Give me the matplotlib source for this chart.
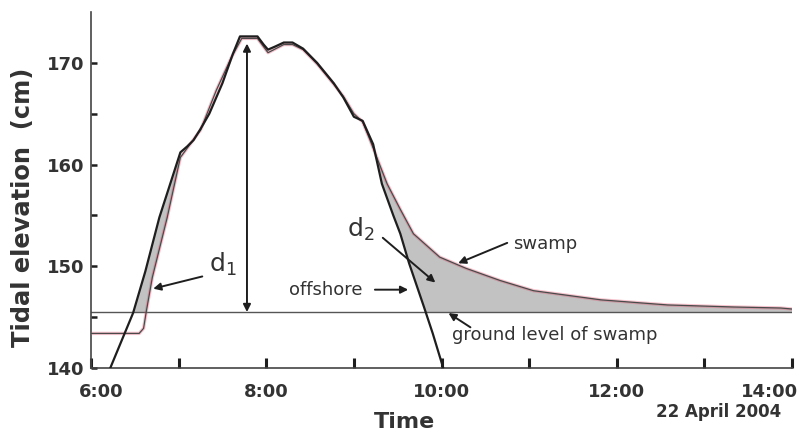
"""Tidal elevation offshore vs swamp, 22 April 2004."""
import numpy as np
import matplotlib
matplotlib.use("Agg")
import matplotlib.pyplot as plt
from matplotlib.ticker import FixedLocator, FuncFormatter

# offshore gauge (hours, cm)
off_t = [6.22, 6.35, 6.48, 6.62, 6.78, 6.90, 7.02, 7.10, 7.17, 7.25, 7.35, 7.50,
         7.62, 7.70, 7.90, 7.97, 8.02, 8.10, 8.20, 8.30, 8.42, 8.58, 8.77, 8.88,
         9.00, 9.10, 9.22, 9.32, 9.45, 9.53, 9.63, 9.80, 9.90, 10.02]
off_e = [140.0, 142.7, 145.4, 149.5, 154.8, 158.0, 161.2, 161.8, 162.4, 163.5, 165.0, 168.0,
         170.9, 172.6, 172.6, 171.8, 171.3, 171.6, 172.0, 172.0, 171.4, 170.0, 168.0, 166.6,
         164.7, 164.3, 162.0, 158.1, 155.0, 153.2, 150.3, 146.0, 143.4, 140.0]

# swamp gauge
sw_t = [6.00, 6.55, 6.60, 6.63, 6.70, 6.87, 7.02, 7.25, 7.43, 7.60, 7.72, 7.90,
        8.02, 8.20, 8.30, 8.42, 8.58, 8.77, 8.88, 9.00, 9.10, 9.18, 9.38, 9.53,
        9.68, 9.98, 10.28, 10.67, 11.05, 11.82, 12.58, 13.33, 13.87, 14.00]
sw_e = [143.4, 143.4, 143.9, 145.5, 148.9, 154.8, 160.7, 163.4, 167.3, 170.5, 172.4, 172.4,
        171.0, 171.8, 171.8, 171.3, 169.9, 167.9, 166.7, 165.0, 164.2, 162.5, 158.1, 155.6,
        153.2, 150.9, 149.8, 148.6, 147.6, 146.7, 146.2, 146.0, 145.9, 145.8]

GROUND = 145.5
hour_ticks = [6, 7, 8, 9, 10, 11, 12, 13, 14]
y_major = [140, 150, 160, 170]
y_minor = [145, 155, 165]

INK = "#1e1e1e"
TXT = "#333333"
FILL = "#c2c2c2"
plt.rcParams["font.family"] = ["DejaVu Sans"]

off_t, off_e = np.array(off_t), np.array(off_e)
sw_t, sw_e = np.array(sw_t), np.array(sw_e)

fig = plt.figure(figsize=(8.03, 4.38), dpi=100)
ax = fig.add_axes([91/803, 1 - 368/438, 701/803, 356/438])

# shaded d1 (rise) and d2 (fall) areas
m_off = (off_t >= 6.45) & (off_t <= 7.02)
m_sw = (sw_t >= 6.63) & (sw_t <= 7.02)
ax.fill(np.r_[off_t[m_off], sw_t[m_sw][::-1]], np.r_[off_e[m_off], sw_e[m_sw][::-1]],
        color=FILL, lw=0, zorder=1)
fall = off_t >= 9.5
cross = np.interp(GROUND, off_e[fall][::-1], off_t[fall][::-1])
f_sw = sw_t >= 9.10
f_off = (off_t >= 9.10) & (off_e >= GROUND)
ax.fill(np.r_[sw_t[f_sw], sw_t[-1], cross, off_t[f_off][::-1]],
        np.r_[sw_e[f_sw], GROUND, GROUND, off_e[f_off][::-1]],
        color=FILL, lw=0, zorder=1)

ax.axhline(GROUND, color="#555555", lw=1.0, zorder=2)
ax.plot(sw_t, sw_e, color="#e0506e", lw=2.4, alpha=0.35, zorder=3)
ax.plot(sw_t, sw_e, color="#4a4a4a", lw=0.9, zorder=3)
ax.plot(off_t, off_e, color=INK, lw=1.6, zorder=4)

arrow = dict(arrowstyle="-|>", color=INK, lw=1.4, mutation_scale=11, shrinkA=0, shrinkB=0)
ax.annotate("", xy=(7.78, 171.9), xytext=(7.78, GROUND),
            arrowprops=dict(arrowstyle="<|-|>", color=INK, lw=1.4, mutation_scale=11,
                            shrinkA=0, shrinkB=0))
ax.annotate("", xy=(6.71, 147.8), xytext=(7.27, 149.0), arrowprops=arrow)
ax.text(7.35, 150.2, "d$_1$", fontsize=18, color=TXT, ha="left", va="center")
ax.annotate("", xy=(9.93, 148.4), xytext=(9.33, 152.8), arrowprops=arrow)
ax.text(9.08, 153.6, "d$_2$", fontsize=18, color=TXT, ha="center", va="center")
ax.annotate("", xy=(9.62, 147.7), xytext=(9.24, 147.7), arrowprops=arrow)
ax.text(9.10, 147.7, "offshore", fontsize=13, color=TXT, ha="right", va="center")
ax.annotate("", xy=(10.19, 150.3), xytext=(10.75, 152.3), arrowprops=arrow)
ax.text(10.82, 152.2, "swamp", fontsize=13, color=TXT, ha="left", va="center")
ax.annotate("", xy=(10.08, 145.4), xytext=(10.33, 144.0), arrowprops=arrow)
ax.text(10.12, 143.2, "ground level of swamp", fontsize=13, color=TXT,
        ha="left", va="center")
ax.text(13.16, 135.7, "22 April 2004", fontsize=12, fontweight="bold", color=TXT,
        ha="center", va="center")

ax.set_xlim(6, 14)
ax.set_ylim(140, 175)
for s in ("top", "right"):
    ax.spines[s].set_visible(False)
for s in ("left", "bottom"):
    ax.spines[s].set_color("#444444")
    ax.spines[s].set_linewidth(1.2)

# inner even-hour labels as tick labels; end labels nudged like the original
ax.xaxis.set_major_locator(FixedLocator(hour_ticks))
ax.xaxis.set_major_formatter(FuncFormatter(
    lambda v, p: f"{int(v)}:00" if int(v) % 2 == 0 and 6 < v < 14 else ""))
for hx, dx in ((6, 7), (14, -16)):
    ax.annotate(f"{hx}:00", xy=(hx, 140), xytext=(dx, -11), textcoords="offset points",
                ha="center", va="top", fontsize=13, fontweight="bold", color=TXT,
                annotation_clip=False)
ax.yaxis.set_major_locator(FixedLocator(y_major))
ax.yaxis.set_minor_locator(FixedLocator(y_minor))
ax.tick_params(axis="x", direction="in", length=7.5, width=2.2, pad=11, color=INK,
               labelsize=13, labelcolor=TXT)
ax.tick_params(axis="y", which="both", direction="in", length=4, width=1.8, pad=5,
               color=INK, labelsize=13, labelcolor=TXT)
for lab in ax.get_xticklabels() + ax.get_yticklabels():
    lab.set_fontweight("bold")

ax.set_xlabel("Time", fontsize=16, fontweight="bold", color=TXT)
ax.xaxis.set_label_coords(0.447, -0.124)
ax.set_ylabel("Tidal elevation  (cm)", fontsize=17.4, fontweight="bold", color=TXT)
ax.yaxis.set_label_coords(-0.08, 0.452)

fig.savefig("out.png", dpi=100)
